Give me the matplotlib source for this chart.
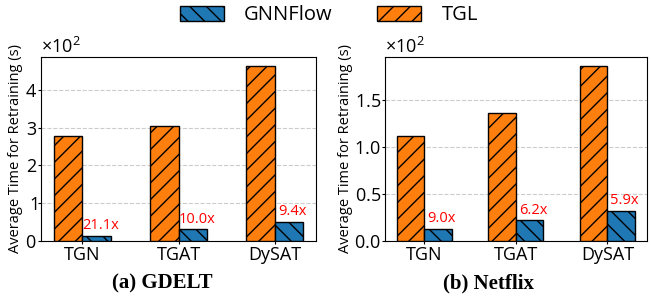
import numpy as np
import matplotlib
matplotlib.use('Agg')
from matplotlib import pyplot as plt
from matplotlib.ticker import ScalarFormatter

plt.rcParams['font.family'] = ['Open Sans', 'DejaVu Sans']
plt.rcParams['mathtext.fontset'] = 'custom'
plt.rcParams['mathtext.rm'] = 'Open Sans'
plt.rcParams['hatch.linewidth'] = 1.0

# data (seconds)
models = ['TGN', 'TGAT', 'DySAT']
gdelt_tgl = [277, 305, 464]
gdelt_gnnflow = [13.1, 30.5, 49.4]
gdelt_speedup = ['21.1x', '10.0x', '9.4x']
netflix_tgl = [112, 136, 187]
netflix_gnnflow = [12.4, 21.9, 31.7]
netflix_speedup = ['9.0x', '6.2x', '5.9x']

c_tgl = '#ff7f0e'
c_gnn = '#1f77b4'
width = 0.3

fig = plt.figure(figsize=(6.51, 3.03), dpi=100)
ax1 = fig.add_axes([0.063, 0.205, 0.4224, 0.607])
ax2 = fig.add_axes([0.5914, 0.205, 0.402, 0.607])


def draw(ax, tgl, gnn, speedup):
    x = np.arange(len(models))
    b_tgl = ax.bar(x - width / 2, tgl, width, color=c_tgl, edgecolor='black',
                   linewidth=1, hatch='//', label='TGL', zorder=3)
    b_gnn = ax.bar(x + width / 2, gnn, width, color=c_gnn, edgecolor='black',
                   linewidth=1, hatch='\\\\', label='GNNFlow', zorder=3)
    for xi, v, s in zip(x, gnn, speedup):
        ax.annotate(s, (xi + width / 2 + 0.04, v), xytext=(0, 2),
                    textcoords='offset points', ha='center', va='bottom',
                    color='red', fontsize=10.5)
    ax.set_xticks(x)
    ax.set_xticklabels(models, fontsize=13)
    ax.tick_params(axis='y', labelsize=13, length=2, pad=1)
    ax.tick_params(axis='x', length=2, pad=1.5)
    ax.set_ylabel('Average Time for Retraining (s)', fontsize=10.5, labelpad=1)
    ax.yaxis.grid(True, linestyle='--', color='#cccccc', linewidth=0.8, zorder=0)
    ax.set_axisbelow(True)
    fmt = ScalarFormatter(useMathText=True)
    fmt.set_powerlimits((0, 0))
    ax.yaxis.set_major_formatter(fmt)
    ax.yaxis.get_offset_text().set_fontsize(13)
    return b_tgl, b_gnn


b_tgl, b_gnn = draw(ax1, gdelt_tgl, gdelt_gnnflow, gdelt_speedup)
draw(ax2, netflix_tgl, netflix_gnnflow, netflix_speedup)
ax2.set_yticks([0, 50, 100, 150])

fig.text(0.249, 0.066, '(a) GDELT', ha='center', va='center',
         fontsize=15, fontweight='bold', family='Liberation Serif')
fig.text(0.75, 0.066, '(b) Netflix', ha='center', va='center',
         fontsize=15, fontweight='bold', family='Liberation Serif')

fig.legend([b_gnn, b_tgl], ['GNNFlow', 'TGL'], loc='center',
           bbox_to_anchor=(0.505, 0.95), ncol=2, frameon=False, fontsize=14.5,
           handlelength=2.2, handleheight=0.75, handletextpad=1.0,
           columnspacing=2.2)

fig.savefig('out.png', dpi=100)
